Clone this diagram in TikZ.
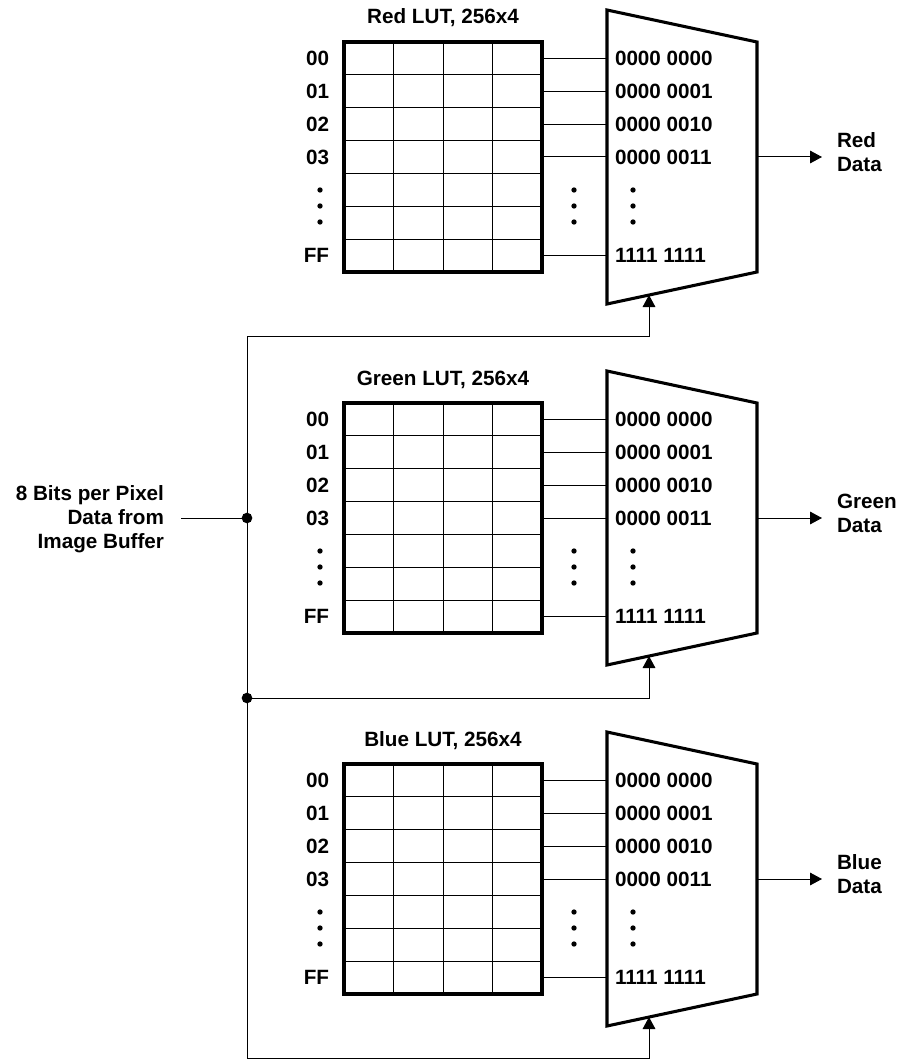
\documentclass[tikz,border=0pt]{standalone}
\usepackage{fontspec}
\setmainfont{Liberation Sans}
\usetikzlibrary{arrows.meta}
\begin{document}
\begin{tikzpicture}[x=0.75pt,y=-0.75pt,
  every node/.style={font=\fontsize{15.5}{18}\selectfont\bfseries, inner sep=0pt, outer sep=0pt},
  lutbox/.style={draw, line width=2.3pt, minimum width=148.5pt, minimum height=172.5pt, anchor=north west},
  muxline/.style={line width=2.3pt, line join=miter},
  wire/.style={line width=0.75pt},
  gridline/.style={line width=0.75pt},
  arr/.style={-{Triangle[length=9pt,width=9.5pt]}},
  dotnode/.style={circle, fill, minimum size=4pt, inner sep=0pt},
  junc/.style={circle, fill, minimum size=8pt, inner sep=0pt}
]
\useasboundingbox (0,0) rectangle (902,1059);

\foreach \nm/\off/\ttl in {red/0/Red, green/361/Green, blue/722/Blue}{
  \node[anchor=base] (\nm title) at (443,24+\off) {\ttl\ LUT, 256x4};
  \node[lutbox] (\nm lut) at (344,42+\off) {};
  \foreach \c in {1,2,3}
    \draw[gridline] (344+49.5*\c,42+\off) -- (344+49.5*\c,272+\off);
  \foreach \r in {1,...,6}
    \draw[gridline] (344,42+\off+32.857*\r) -- (542,42+\off+32.857*\r);
  % row labels
  \node[anchor=east] (\nm r0) at (329,58.4+\off) {00};
  \node[anchor=east] (\nm r1) at (329,91.3+\off) {01};
  \node[anchor=east] (\nm r2) at (329,124.1+\off) {02};
  \node[anchor=east] (\nm r3) at (329,157+\off) {03};
  \node[anchor=east] (\nm r7) at (329,255.6+\off) {FF};
  % mux
  \coordinate (\nm tl) at (607,10+\off);
  \coordinate (\nm tr) at (757,42+\off);
  \coordinate (\nm br) at (757,272+\off);
  \coordinate (\nm bl) at (607,304+\off);
  \draw[muxline] (\nm tl) -- (\nm tr) -- (\nm br) -- (\nm bl) -- cycle;
  \node[anchor=west, inner xsep=6pt] (\nm m0) at (607,58.4+\off) {0000 0000};
  \node[anchor=west, inner xsep=6pt] (\nm m1) at (607,91.3+\off) {0000 0001};
  \node[anchor=west, inner xsep=6pt] (\nm m2) at (607,124.1+\off) {0000 0010};
  \node[anchor=west, inner xsep=6pt] (\nm m3) at (607,157+\off) {0000 0011};
  \node[anchor=west, inner xsep=6pt] (\nm m7) at (607,255.6+\off) {1111 1111};
  \foreach \i in {0,1,2,3,7}
    \draw[wire] (\nm lut.east |- \nm m\i.west) -- (\nm m\i.west);
  % dots
  \foreach \k/\y in {a/190,b/206,c/222}{
    \node[dotnode] (\nm dl\k) at (320,\y+\off) {};
    \node[dotnode] (\nm dm\k) at (574,\y+\off) {};
    \node[dotnode] (\nm dr\k) at (633,\y+\off) {};
  }
  % output
  \coordinate (\nm out) at (757,157+\off);
  \coordinate (\nm tip) at (822,157+\off);
  \node[anchor=west, align=left] (\nm lbl) at (837,152.5+\off) {\ttl\\Data};
  \draw[wire,arr] (\nm out) -- (\nm tip);
  % select input
  \coordinate (\nm sel) at (649,295+\off);
}

% bus
\coordinate (bustop) at (247,336);
\coordinate (jin) at (247,518);
\coordinate (jg) at (247,698);
\coordinate (busbot) at (247,1058);
\draw[wire,{Triangle[length=9pt,width=9.5pt]}-{Triangle[length=9pt,width=9.5pt]}]
  (bluesel) |- (busbot) -- (bustop) -| (redsel);
\draw[wire,arr] (jg) -| (greensel);
\node[anchor=east, align=right] (src) at (164,519) {8 Bits per Pixel\\Data from\\Image Buffer};
\coordinate (srcend) at (181,518);
\draw[wire] (srcend) -- (jin);
\node[junc] (jn1) at (jin) {};
\node[junc] (jn2) at (jg) {};
\end{tikzpicture}
\end{document}
